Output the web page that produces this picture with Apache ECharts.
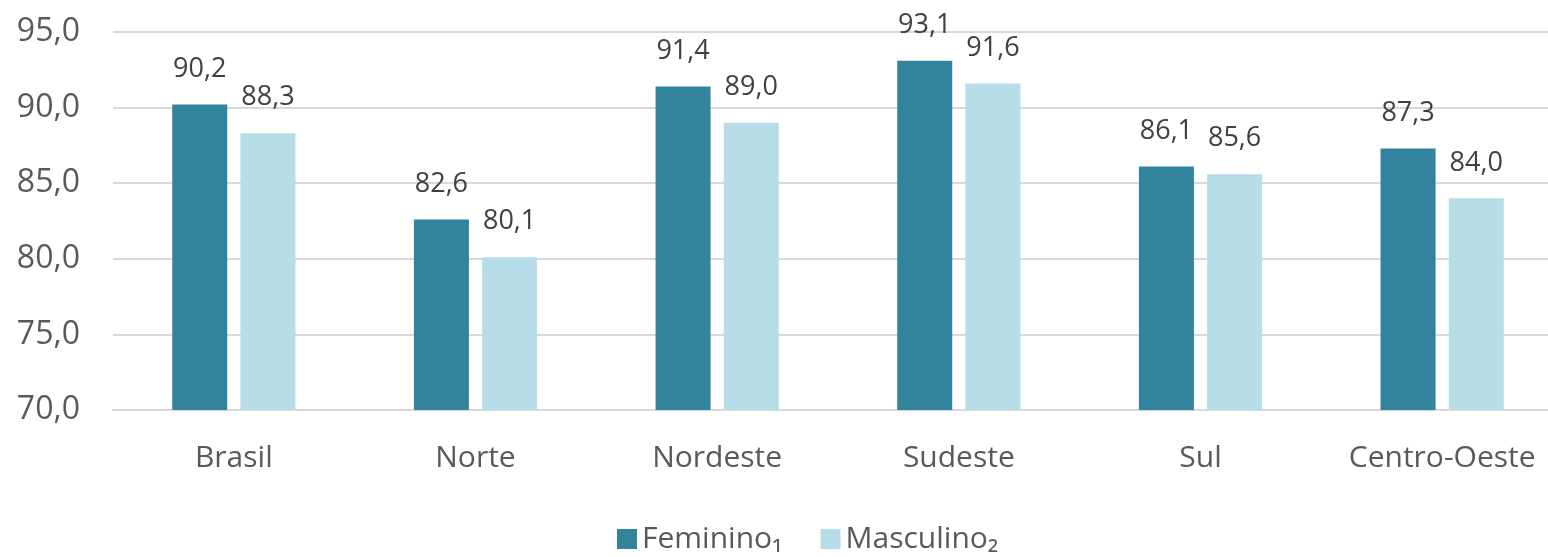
<!DOCTYPE html>
<html>
<head>
<meta charset="utf-8">
<script src="https://cdn.jsdelivr.net/npm/echarts@6/dist/echarts.min.js"></script>
<style>
  html, body { margin: 0; padding: 0; background: #fff; overflow: hidden; }
  #chart { width: 1570px; height: 557px; }
</style>
</head>
<body>
<div id="chart"></div>
<script>
const categories = ["Brasil", "Norte", "Nordeste", "Sudeste", "Sul", "Centro-Oeste"];
const feminino = [90.2, 82.6, 91.4, 93.1, 86.1, 87.3];
const masculino = [88.3, 80.1, 89.0, 91.6, 85.6, 84.0];
const yTicks = { min: 70, max: 95, interval: 5 };

const fmt = v => v.toFixed(1).replace(".", ",");
const font = "'Open Sans', 'Noto Sans', sans-serif";

const chart = echarts.init(document.getElementById("chart"));
chart.setOption({
  animation: false,
  textStyle: { fontFamily: font },
  grid: { left: 113, top: 32, width: 1450, height: 378 },
  legend: {
    bottom: -2,
    left: 612,
    itemWidth: 20,
    itemHeight: 20,
    itemGap: 38,
    icon: "rect",
    textStyle: { fontSize: 30, color: "#595959", fontFamily: font },
    data: ["Feminino\u2081", "Masculino\u2082"]
  },
  xAxis: {
    type: "category",
    data: categories,
    axisLine: { lineStyle: { color: "#D9D9D9", width: 2 } },
    axisTick: { show: false },
    axisLabel: { interval: 0, fontSize: 30, color: "#595959", margin: 33, fontFamily: font }
  },
  yAxis: {
    type: "value",
    min: yTicks.min,
    max: yTicks.max,
    interval: yTicks.interval,
    axisLine: { show: false },
    axisTick: { show: false },
    splitLine: { lineStyle: { color: "#D9D9D9", width: 2 } },
    axisLabel: { fontSize: 32, color: "#595959", margin: 33, formatter: fmt, fontFamily: font }
  },
  series: [
    {
      name: "Feminino\u2081",
      type: "bar",
      data: feminino,
      barWidth: 55,
      barGap: "24%",
      itemStyle: { color: "#31849B" },
      label: { show: true, position: "top", distance: 22, fontSize: 27, color: "#404040", formatter: p => fmt(p.value), fontFamily: font }
    },
    {
      name: "Masculino\u2082",
      type: "bar",
      data: masculino,
      barWidth: 55,
      itemStyle: { color: "#B7DEE8" },
      label: { show: true, position: "top", distance: 22, fontSize: 27, color: "#404040", formatter: p => fmt(p.value), fontFamily: font }
    }
  ]
});
</script>
</body>
</html>
